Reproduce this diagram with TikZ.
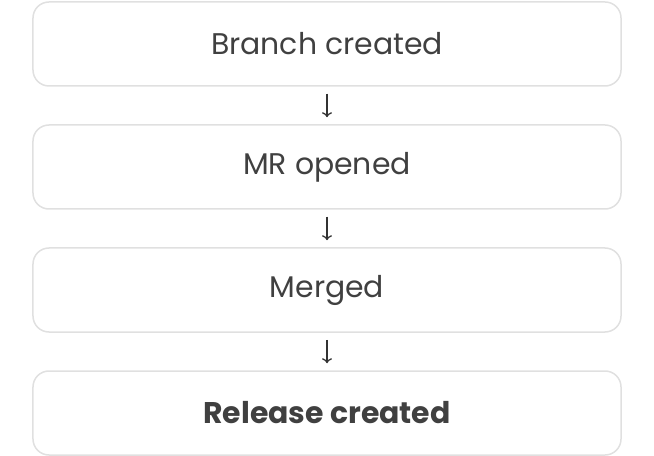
\documentclass[tikz,border=0pt]{standalone}
\usepackage{fontspec}
\setmainfont{Poppins}
\usetikzlibrary{arrows.meta}
\begin{document}
\begin{tikzpicture}[
    x=1bp,y=-1bp,
    box/.style = { draw=black!12,line width=1.5bp,rounded corners=16bp,minimum width=588bp,minimum height=84bp,text=black!75,font=\fontsize{30}{34}\selectfont },
    arrowstyle/.style = { -{To[length=5bp,width=10bp]},line width=1.3bp,black!80,shorten <=7bp,shorten >=7bp }
    ]
    \useasboundingbox (0,0) rectangle (654,456);
    % Nodes
    \node(B) at (327, 44) [box] {Branch created};
    \node(M) at (327,167) [box] {MR opened};
    \node(G) at (327,290) [box] {Merged};
    \node(R) at (327,413) [box,font=\fontsize{30}{34}\selectfont\bfseries] {Release created};
    % Arrows
    \draw[arrowstyle] (B) -- (M);
    \draw[arrowstyle] (M) -- (G);
    \draw[arrowstyle] (G) -- (R);
\end{tikzpicture}
\end{document}
